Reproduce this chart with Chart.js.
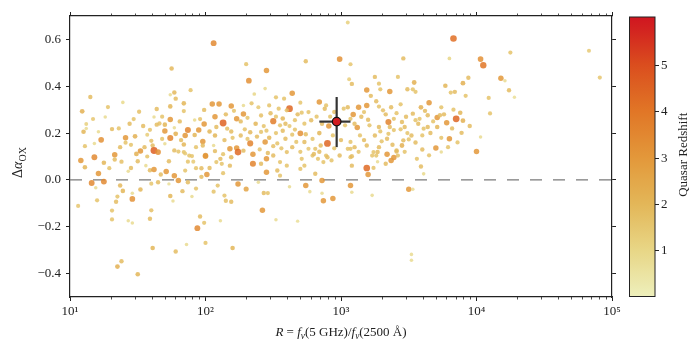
<!DOCTYPE html>
<html>
<head>
<meta charset="utf-8">
<script src="https://cdn.jsdelivr.net/npm/chart.js@4.4.0/dist/chart.umd.min.js"></script>
<style>
  html, body { margin: 0; padding: 0; background: #fff; }
  #wrap { position: relative; width: 700px; height: 350px; }
</style>
</head>
<body>
<div id="wrap"><canvas id="chart" width="700" height="350"></canvas></div>
<script>
// log10(R) of each quasar
const logRatio = [
  2.06,1.75,1.77,1.78,1.74,1.89,1.15,1.39,1.28,1.09,1.17,1.26,1.12,1.10,1.12,1.21,1.31,1.51,1.64,1.62,
  1.74,1.84,1.84,1.92,1.99,2.05,2.07,1.74,1.64,1.66,1.70,1.77,1.87,1.85,1.95,1.99,1.92,2.03,2.07,1.98,
  2.08,1.23,1.41,1.48,1.57,1.59,1.70,1.74,1.78,1.60,1.61,1.41,1.11,1.18,1.62,1.65,1.52,1.49,1.33,1.18,
  1.84,1.77,1.84,1.88,2.00,1.98,2.06,1.70,1.08,1.11,1.25,1.21,1.16,1.25,1.19,1.20,1.06,1.33,1.38,1.45,
  1.43,1.37,1.39,1.35,1.34,1.31,1.31,1.46,1.46,1.52,1.56,1.59,1.62,1.67,1.71,1.65,1.60,1.77,1.74,1.76,
  1.73,1.80,1.87,1.83,1.90,1.93,1.97,2.01,2.06,1.60,1.59,1.43,1.46,1.96,1.99,1.94,2.00,1.86,1.61,1.78,
  1.38,1.35,1.50,1.80,1.85,1.90,1.91,1.87,1.93,1.97,2.00,2.08,2.03,
  2.30,2.45,2.32,2.74,2.99,3.07,3.05,3.06,3.08,2.44,2.36,2.64,2.52,2.58,2.70,2.10,2.19,2.28,2.34,2.47,
  2.39,2.62,2.54,2.60,2.71,2.76,2.84,2.88,2.89,3.02,3.05,3.09,3.12,2.28,2.23,2.13,2.50,2.45,2.70,2.33,
  2.44,2.55,2.59,2.62,2.90,2.91,2.16,2.19,2.29,2.33,2.23,2.18,2.35,2.50,2.53,2.59,2.64,2.67,2.73,2.76,
  2.81,2.85,2.79,2.89,2.99,3.05,2.60,
  2.24,2.07,2.11,2.19,2.18,2.12,2.35,2.41,2.45,2.45,2.50,2.55,2.60,2.53,2.55,2.13,2.24,2.09,2.14,2.15,
  2.19,2.30,2.39,2.43,2.46,2.42,2.52,2.62,2.68,2.11,2.20,2.74,2.77,2.81,2.86,2.87,2.94,2.86,2.71,2.73,
  2.70,2.80,2.83,2.87,2.90,2.93,3.07,3.08,3.07,3.08,
  3.83,3.46,3.80,4.03,4.05,3.25,3.42,3.54,3.53,3.55,3.49,3.28,3.29,3.19,3.36,3.22,3.26,3.19,3.13,3.28,
  3.31,3.37,3.44,3.59,3.65,3.74,3.77,3.81,3.84,3.90,3.94,3.92,4.09,4.10,3.88,3.85,3.90,3.78,3.71,3.73,
  3.64,3.58,3.53,3.57,3.61,3.64,3.71,3.45,3.39,3.36,3.39,3.44,3.47,3.35,3.07,3.10,3.03,3.20,3.21,3.28,
  3.29,3.25,3.35,3.34,3.46,3.50,3.52,3.45,3.41,3.42,3.19,3.24,3.27,3.07,3.10,3.07,3.34,3.39,3.56,3.70,
  3.80,3.89,4.03,4.00,3.74,
  3.19,3.20,3.24,3.08,3.23,3.26,3.23,3.41,3.37,3.33,3.27,3.50,3.53,3.59,3.61,3.52,3.52,
  4.25,4.18,4.21,4.24,4.28,4.83,4.91,
  // denser part of the cloud
  2.15,2.21,2.26,2.31,2.37,2.41,2.43,2.48,2.52,2.57,2.66,2.68,2.73,2.78,2.82,2.86,2.92,2.95,
  2.14,2.20,2.26,2.31,2.38,2.41,2.47,2.52,2.57,2.66,2.74,2.79,2.84,2.94,3.00,
  2.13,2.28,2.40,2.46,2.56,2.64,2.70,2.84,2.95,
  3.15,3.17,3.33,3.41,3.48,3.55,3.62,3.68,3.76,3.83,
  3.14,3.17,3.30,3.38,3.49,3.55,3.60,3.66,3.74,3.82,3.86,3.95,
  3.13,3.28,3.47,3.60,3.65,3.79,
  1.36,1.44,1.47,1.54,1.68,1.81,1.96,1.37,1.45,1.55,1.68,1.82,1.93,1.29,1.50,1.57,1.73,1.85
];

// Delta alpha_OX of each quasar
const deltaAlpha = [
  0.584,0.476,0.373,0.347,0.364,0.383,0.354,0.331,0.311,0.293,0.260,0.269,0.239,0.206,0.220,0.206,0.217,0.291,0.303,0.269,
  0.314,0.327,0.294,0.256,0.299,0.324,0.270,0.258,0.236,0.241,0.236,0.223,0.213,0.190,0.213,0.239,0.192,0.207,0.190,0.164,
  0.226,0.171,0.180,0.186,0.193,0.214,0.209,0.179,0.197,0.167,0.147,0.159,0.144,0.156,0.126,0.119,0.123,0.111,0.107,0.097,
  0.151,0.126,0.119,0.104,0.104,0.147,0.147,0.154,0.083,0.054,0.073,0.027,-0.013,-0.007,-0.033,-0.087,-0.111,0.087,0.078,0.051,
  0.037,-0.024,-0.047,-0.071,-0.093,-0.131,-0.169,-0.081,-0.057,-0.041,0.061,0.041,0.044,0.023,0.036,-0.010,-0.016,0.018,-0.069,-0.090,
  -0.017,-0.003,-0.010,-0.048,-0.071,-0.037,0.013,0.023,-0.050,-0.130,-0.166,-0.174,-0.184,-0.156,-0.183,-0.206,-0.269,-0.276,-0.291,-0.306,
  -0.347,-0.370,-0.403,0.121,0.113,0.102,0.078,0.078,0.050,0.050,0.101,0.076,0.051,
  0.494,0.467,0.424,0.507,0.516,0.494,0.672,0.430,0.410,0.390,0.367,0.370,0.353,0.347,0.330,0.324,0.316,0.318,0.327,0.318,
  0.310,0.304,0.304,0.297,0.287,0.290,0.333,0.304,0.318,0.304,0.310,0.279,0.224,0.282,0.261,0.243,0.251,0.210,0.199,0.156,
  0.162,0.233,0.240,0.230,0.156,0.230,0.219,0.207,0.216,0.204,0.136,0.133,0.110,0.144,0.156,0.176,0.193,0.162,0.162,0.133,
  0.133,0.147,0.104,0.104,0.104,0.133,0.119,
  0.119,0.123,0.090,0.097,0.061,0.069,0.069,0.069,0.090,0.033,0.104,0.076,0.061,0.040,0.018,0.029,-0.017,-0.024,-0.067,-0.089,
  -0.093,-0.039,-0.010,-0.056,-0.056,-0.130,-0.170,-0.029,-0.176,-0.174,-0.291,-0.024,-0.050,0.026,-0.003,-0.089,-0.079,-0.057,0.090,0.061,
  0.047,0.111,0.090,0.076,0.097,0.083,0.097,0.061,-0.024,-0.053,
  0.604,0.519,0.519,0.516,0.490,0.440,0.440,0.416,0.387,0.376,0.387,0.411,0.387,0.384,0.378,0.359,0.336,0.318,0.310,0.313,
  0.297,0.310,0.323,0.310,0.330,0.310,0.402,0.373,0.376,0.413,0.436,0.359,0.350,0.284,0.287,0.261,0.253,0.244,0.267,0.276,
  0.276,0.261,0.283,0.240,0.219,0.226,0.226,0.247,0.261,0.226,0.213,0.216,0.226,0.247,0.261,0.240,0.233,0.257,0.233,0.226,
  0.207,0.190,0.197,0.176,0.169,0.173,0.190,0.147,0.126,0.104,0.147,0.119,0.119,0.162,0.140,0.133,0.110,0.096,0.090,0.136,
  0.176,0.201,0.183,0.121,0.119,
  0.051,0.023,0.051,0.101,-0.066,0.104,0.104,0.121,0.083,0.069,0.078,-0.040,-0.040,0.057,0.026,-0.318,-0.343,
  0.544,0.434,0.423,0.383,0.353,0.552,0.437,
  0.280,0.295,0.250,0.265,0.240,0.275,0.230,0.285,0.270,0.262,0.255,0.280,0.240,0.255,0.270,0.240,0.270,0.290,
  0.170,0.180,0.190,0.175,0.185,0.205,0.180,0.200,0.210,0.215,0.195,0.175,0.200,0.190,0.170,
  0.110,0.125,0.130,0.115,0.135,0.140,0.120,0.120,0.135,
  0.270,0.290,0.280,0.285,0.270,0.255,0.295,0.250,0.280,0.300,
  0.190,0.170,0.165,0.150,0.200,0.160,0.190,0.200,0.180,0.220,0.160,0.230,
  0.120,0.140,0.120,0.130,0.105,0.140,
  0.220,0.240,0.260,0.230,0.270,0.250,0.260,0.140,0.150,0.140,0.175,0.170,0.140,0.050,0.080,0.100,0.080,0.040
];

// quasar redshift, estimated from each dot's colour and size
const redshift = [
  3.4,1.9,1.9,1.8,0.8,1.6,1.8,0.9,1.6,2.2,1.5,0.8,1.2,2.0,0.8,0.8,1.8,1.7,1.8,0.8,
  2.0,2.0,1.6,0.9,1.8,3.0,3.0,3.0,1.8,1.7,2.0,0.8,3.6,3.0,3.0,3.0,2.0,2.0,2.0,3.0,
  1.8,3.2,3.0,2.2,1.3,1.6,3.0,3.6,2.2,1.7,1.8,1.6,1.6,0.8,4.6,3.2,3.0,2.2,3.0,3.4,
  2.0,1.8,1.6,1.6,3.0,1.8,0.8,0.8,3.0,2.0,2.0,3.0,3.4,3.4,0.8,1.6,1.5,1.8,1.7,1.8,
  0.8,1.9,2.0,1.6,1.8,1.6,1.6,3.2,0.8,2.0,0.8,1.8,3.0,1.8,3.0,1.8,1.5,3.0,2.0,0.8,
  0.7,3.0,1.8,1.8,0.8,1.6,1.8,3.0,1.6,1.7,1.8,0.8,0.8,1.8,1.6,3.4,1.6,0.8,2.0,1.8,
  1.8,2.2,2.0,1.6,1.4,1.6,1.4,1.6,1.6,1.8,3.0,1.6,1.8,
  1.6,3.0,3.2,1.8,3.2,1.5,1.2,1.3,1.8,0.9,1.0,3.0,1.6,1.6,1.5,3.0,3.0,0.8,1.6,1.6,
  1.4,4.4,1.6,1.7,1.6,1.6,3.0,1.8,1.6,1.6,1.8,3.0,3.0,3.0,3.0,4.5,3.8,1.6,3.2,3.6,
  3.0,1.6,1.8,1.5,4.4,3.0,1.7,1.8,1.6,1.9,3.0,3.0,3.0,1.7,1.6,1.8,1.6,1.6,1.8,1.5,
  1.6,1.8,1.6,1.6,1.8,1.6,1.7,
  4.3,1.8,1.8,2.0,1.8,1.6,3.6,1.8,3.0,3.0,1.8,1.6,1.6,1.8,1.6,1.6,3.0,1.6,1.6,1.7,
  1.8,2.6,0.8,1.8,1.6,3.0,0.8,0.8,0.7,0.8,2.0,3.0,0.8,1.8,3.0,3.0,3.0,0.8,1.6,1.6,
  1.6,1.8,1.6,1.6,1.8,1.6,1.6,1.8,3.0,0.8,
  4.2,1.8,1.0,3.2,4.0,1.8,1.6,2.2,1.6,1.6,1.8,1.6,1.6,3.0,3.0,1.8,1.8,3.0,3.0,1.6,
  1.7,1.8,1.6,2.2,3.0,1.6,2.0,1.6,1.8,2.2,1.8,1.6,1.6,1.6,2.0,4.4,2.2,3.0,3.0,1.8,
  1.8,1.6,1.8,1.8,1.6,1.8,2.0,1.8,1.6,1.8,1.6,1.6,1.8,3.6,1.6,1.8,1.6,1.8,1.6,1.8,
  1.6,1.8,1.6,1.8,1.8,1.6,1.8,2.2,1.8,1.6,1.8,1.6,1.8,1.6,1.8,1.6,3.0,3.0,1.6,3.0,
  3.0,1.8,0.8,3.0,0.8,
  4.3,3.0,1.6,1.8,0.8,1.6,1.6,1.8,3.0,1.8,0.8,3.0,0.8,1.8,0.9,0.8,0.8,
  1.6,3.0,0.8,1.8,0.7,1.4,1.5,
  1.8,1.6,1.8,1.6,2.0,1.7,1.6,1.8,1.6,2.0,1.6,1.8,1.6,1.8,1.6,1.8,1.6,1.7,
  1.8,1.6,1.8,1.6,1.8,1.6,2.0,1.6,1.8,1.6,1.8,1.6,2.0,1.6,1.8,
  1.6,1.8,1.6,1.8,1.6,1.8,1.6,1.8,1.6,
  1.8,1.6,1.8,1.6,1.8,1.6,1.8,1.6,1.8,1.6,
  1.6,1.8,1.6,1.8,1.6,1.8,1.6,1.8,1.6,1.8,1.6,1.8,
  1.6,1.8,1.6,1.8,1.6,1.6,
  1.6,1.8,1.6,1.8,1.6,1.8,1.6,1.8,1.6,1.8,1.6,1.8,1.6,1.6,1.8,1.6,1.8,1.6
];

// the highlighted source and its error bars (log R and Delta alpha_OX)
const featuredLogR = 2.968;
const featuredDelta = 0.249;
const featuredZ = 5.9;
const featuredLogRRange = [2.84, 3.07];
const featuredDeltaRange = [0.14, 0.354];

const xTickPowers = [1, 2, 3, 4, 5];
const yTicks = [-0.4, -0.2, 0.0, 0.2, 0.4, 0.6];
const cbarTicks = [1, 2, 3, 4, 5];
const zMin = 0.0, zMax = 6.04;

const FONT = '"Liberation Serif", "DejaVu Serif", serif';
const INK = '#222';

// colour map for redshift (pale yellow -> red)
const cmapStops = [
  [0, [238, 240, 188]], [1, [232, 214, 134]], [2, [227, 182, 88]], [3, [227, 152, 58]],
  [4, [225, 118, 38]], [5, [218, 78, 30]], [6, [208, 22, 32]]
];
const zColor = (z, a = 1) => {
  const t = Math.max(0, Math.min(6, z));
  let i = Math.min(Math.floor(t), 5);
  const f = t - i;
  const c0 = cmapStops[i][1], c1 = cmapStops[i + 1][1];
  const c = c0.map((v, k) => Math.round(v + (c1[k] - v) * f));
  return `rgba(${c[0]},${c[1]},${c[2]},${a})`;
};
const zRadius = z => 1.4 + 0.45 * z;

const sup = { '1': '\u00b9', '2': '\u00b2', '3': '\u00b3', '4': '\u2074', '5': '\u2075' };

const points = logRatio.map((lr, i) => ({ x: Math.pow(10, lr), y: deltaAlpha[i] }));

// draws a run of text pieces with italic / subscript parts
const drawRich = (ctx, pieces, cx, cy, size) => {
  const fontOf = p => `${p.it ? 'italic ' : ''}${p.sub ? size * 0.72 : size}px ${FONT}`;
  let total = 0;
  pieces.forEach(p => { ctx.font = fontOf(p); total += ctx.measureText(p.t).width; });
  let x = cx - total / 2;
  ctx.textAlign = 'left';
  ctx.textBaseline = 'alphabetic';
  pieces.forEach(p => {
    ctx.font = fontOf(p);
    ctx.fillText(p.t, x, cy + (p.sub ? size * 0.25 : 0));
    x += ctx.measureText(p.t).width;
  });
};

const extras = {
  id: 'extras',
  afterDraw(chart) {
    const { ctx } = chart;
    const xs = chart.scales.x;
    const area = chart.chartArea;
    ctx.save();
    ctx.fillStyle = INK;
    ctx.strokeStyle = INK;

    // minor log ticks, top and bottom
    ctx.lineWidth = 0.8;
    for (let p = 1; p < 5; p++) {
      for (let k = 2; k <= 9; k++) {
        const px = Math.round(xs.getPixelForValue(k * Math.pow(10, p))) + 0.5;
        ctx.beginPath();
        ctx.moveTo(px, area.bottom); ctx.lineTo(px, area.bottom + 2.5);
        ctx.moveTo(px, area.top); ctx.lineTo(px, area.top - 2.5);
        ctx.stroke();
      }
    }

    // axis titles
    drawRich(ctx, [
      { t: 'R', it: true }, { t: ' = ' }, { t: 'f', it: true }, { t: '\u03bd', it: true, sub: true },
      { t: '(5 GHz)/' }, { t: 'f', it: true }, { t: '\u03bd', it: true, sub: true }, { t: '(2500 \u00c5)' }
    ], (area.left + area.right) / 2, 336, 13);

    ctx.save();
    ctx.translate(22, (area.top + area.bottom) / 2 + 6);
    ctx.rotate(-Math.PI / 2);
    drawRich(ctx, [{ t: '\u0394' }, { t: '\u03b1', it: true }, { t: 'OX', sub: true }], 0, 0, 14);
    ctx.restore();

    // colour bar
    const cbL = 629.5, cbR = 655, cbT = 17, cbB = 296.5;
    const zToY = z => cbB - (z - zMin) / (zMax - zMin) * (cbB - cbT);
    const grad = ctx.createLinearGradient(0, cbB, 0, cbT);
    for (let s = 0; s <= 24; s++) {
      const z = zMin + (zMax - zMin) * s / 24;
      grad.addColorStop(s / 24, zColor(z));
    }
    ctx.fillStyle = grad;
    ctx.fillRect(cbL, cbT, cbR - cbL, cbB - cbT);
    ctx.lineWidth = 1;
    ctx.strokeStyle = INK;
    ctx.strokeRect(cbL, cbT, cbR - cbL, cbB - cbT);
    ctx.fillStyle = INK;
    ctx.font = `13px ${FONT}`;
    ctx.textAlign = 'left';
    ctx.textBaseline = 'middle';
    cbarTicks.forEach(t => {
      const y = Math.round(zToY(t)) + 0.5;
      ctx.beginPath();
      ctx.moveTo(cbR, y); ctx.lineTo(cbR + 4, y);
      ctx.stroke();
      ctx.fillText(String(t), cbR + 6, y);
    });
    ctx.save();
    ctx.translate(687, (cbT + cbB) / 2 - 2);
    ctx.rotate(-Math.PI / 2);
    ctx.textAlign = 'center';
    ctx.textBaseline = 'alphabetic';
    ctx.font = `13px ${FONT}`;
    ctx.fillText('Quasar Redshift', 0, 0);
    ctx.restore();

    ctx.restore();
  }
};

const axisGrid = { drawOnChartArea: false, drawTicks: true, tickLength: 4, color: INK, tickColor: INK, lineWidth: 1 };
const axisBorder = { display: true, color: INK, width: 1.2 };
const tickFont = { family: FONT, size: 13 };

new Chart(document.getElementById('chart'), {
  type: 'scatter',
  data: {
    datasets: [
      {
        type: 'line',
        data: [{ x: Math.pow(10, featuredLogRRange[0]), y: featuredDelta }, { x: Math.pow(10, featuredLogRRange[1]), y: featuredDelta }],
        borderColor: '#333', borderWidth: 2.2, pointRadius: 0, order: 1
      },
      {
        type: 'line',
        data: [{ x: Math.pow(10, featuredLogR), y: featuredDeltaRange[0] }, { x: Math.pow(10, featuredLogR), y: featuredDeltaRange[1] }],
        borderColor: '#333', borderWidth: 2.2, pointRadius: 0, order: 1
      },
      {
        data: [{ x: Math.pow(10, featuredLogR), y: featuredDelta }],
        pointRadius: 4.3, pointBackgroundColor: zColor(featuredZ),
        pointBorderColor: '#111', pointBorderWidth: 1.2, order: 0
      },
      {
        data: points,
        pointRadius: redshift.map(zRadius),
        pointBackgroundColor: redshift.map(z => zColor(z, 0.85)),
        pointBorderWidth: 0,
        order: 2
      },
      {
        type: 'line',
        data: [{ x: 10, y: 0 }, { x: 1e5, y: 0 }],
        borderColor: '#7a7a7a', borderWidth: 1.4, borderDash: [12, 11],
        pointRadius: 0, order: 3
      }
    ]
  },
  options: {
    responsive: false,
    animation: false,
    devicePixelRatio: 1,
    layout: { padding: 0 },
    plugins: { legend: { display: false }, tooltip: { enabled: false } },
    scales: {
      x: {
        type: 'logarithmic', position: 'bottom', min: 10, max: 1e5,
        afterBuildTicks: s => { s.ticks = xTickPowers.map(p => ({ value: Math.pow(10, p) })); },
        afterFit: s => { s.height = 53; },
        ticks: {
          font: tickFont, color: INK, padding: 3, maxRotation: 0, autoSkip: false,
          callback: v => '10' + sup[String(Math.round(Math.log10(v)))]
        },
        grid: axisGrid, border: axisBorder
      },
      xTop: {
        type: 'logarithmic', position: 'top', min: 10, max: 1e5,
        afterBuildTicks: s => { s.ticks = xTickPowers.map(p => ({ value: Math.pow(10, p) })); },
        afterFit: s => { s.height = 16; },
        ticks: { display: false },
        grid: axisGrid, border: axisBorder
      },
      y: {
        type: 'linear', position: 'left', min: -0.5, max: 0.7,
        afterBuildTicks: s => { s.ticks = yTicks.map(v => ({ value: v })); },
        afterFit: s => { s.width = 70; },
        ticks: {
          font: tickFont, color: INK, padding: 5,
          callback: v => (v < -1e-9 ? '\u2212' : '') + Math.abs(v).toFixed(1)
        },
        grid: axisGrid, border: axisBorder
      },
      yRight: {
        type: 'linear', position: 'right', min: -0.5, max: 0.7,
        afterBuildTicks: s => { s.ticks = yTicks.map(v => ({ value: v })); },
        afterFit: s => { s.width = 88; },
        ticks: { display: false },
        grid: axisGrid, border: axisBorder
      }
    }
  },
  plugins: [extras]
});
</script>
</body>
</html>
